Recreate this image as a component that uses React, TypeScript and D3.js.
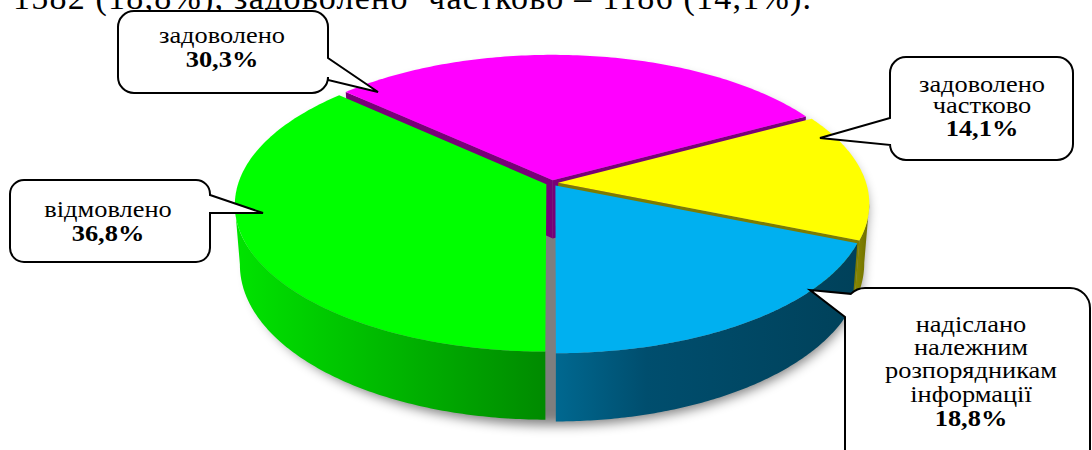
import React from "react";
import * as d3 from "d3";

// ---- data ----
const categories = ["задоволено", "задоволено частково", "надіслано належним розпорядникам інформації", "відмовлено"];
const shares = [30.3, 14.1, 18.8, 36.8];
const shareLabels = ["30,3%", "14,1%", "18,8%", "36,8%"];
const calloutLines = [["задоволено"], ["задоволено", "частково"], ["надіслано", "належним", "розпорядникам", "інформації"], ["відмовлено"]];
const headerLine = "1582 (18,8%), задоволено  частково – 1186 (14,1%).";

// ---- style ----
const topColors = ["#ff00ff", "#ffff00", "#00b0f0", "#00ff00"];
const sideStops: [string, string][][] = [
  [["0%", "#780078"], ["100%", "#780078"]],
  [["0%", "#8a8a00"], ["100%", "#6c6c00"]],
  [["0%", "#006890"], ["30%", "#004e6e"], ["100%", "#00415a"]],
  [["0%", "#00e400"], ["100%", "#008a00"]],
];
const radialColors = ["#780078", "#7c7c00", "#004e6e", "#00a000"];

const FIRST_ANGLE = (-47.5 * Math.PI) / 180;
const G = { cx: 552, cy: 183, R: 308, K: 143.6, p: 0.14, D: 58.5, q: 0.016, e: 0.02 };
const LABEL_SIZE = 24;
const LABEL_STRETCH = 1.1;

type Box = { x: number; y: number; w: number; h: number; r: number };
type Callout = {
  idx: number;
  box: Box;
  side: "right" | "left" | "leftCorner";
  b0: number;
  b1: number;
  tip: [number, number];
  tx: number;
  baselines: number[];
};
const callouts: Callout[] = [
  { idx: 0, box: { x: 118, y: 11, w: 210, h: 82, r: 16 }, side: "right", b0: 58, b1: 80, tip: [378, 92], tx: 222, baselines: [43, 67] },
  { idx: 3, box: { x: 10, y: 180, w: 200, h: 82, r: 14 }, side: "right", b0: 195, b1: 213, tip: [263, 213], tx: 108, baselines: [217, 241] },
  { idx: 1, box: { x: 890, y: 57, w: 183, h: 103, r: 16 }, side: "left", b0: 118, b1: 145, tip: [820, 138], tx: 982, baselines: [92, 113, 136] },
  { idx: 2, box: { x: 845, y: 288, w: 245, h: 200, r: 20 }, side: "leftCorner", b0: 0, b1: 317, tip: [810, 290], tx: 971, baselines: [332, 355, 378, 402, 426] },
];

function proj(X: number, Y: number, Z: number): [number, number] {
  const s = 1 / (1 + G.p * Y);
  const f = 1 - G.q * Z;
  return [G.cx + G.R * X * s * f, G.cy - G.K * Y * s + G.D * Z * s];
}

function arcPts(a0: number, a1: number, ox: number, oy: number, Z: number, n = 120): [number, number][] {
  const pts: [number, number][] = [];
  for (let i = 0; i <= n; i++) {
    const t = a0 + ((a1 - a0) * i) / n;
    pts.push(proj(ox + Math.sin(t), oy + Math.cos(t), Z));
  }
  return pts;
}

const line = d3.line<[number, number]>();
const poly = (pts: [number, number][]) => (line(pts) || "") + "Z";

function calloutPath(c: Callout): string {
  const { x, y, w, h, r } = c.box;
  const x1 = x + w, y1 = y + h;
  const [tx, ty] = c.tip;
  let d = "";
  if (c.side === "leftCorner") {
    const ang = Math.PI / 4;
    const px = x + r - r * Math.cos(ang), py = y + r - r * Math.sin(ang);
    d += `M${x + r},${y} H${x1 - r} A${r},${r} 0 0 1 ${x1},${y + r} V${y1 - r} A${r},${r} 0 0 1 ${x1 - r},${y1} H${x + r} A${r},${r} 0 0 1 ${x},${y1 - r} V${c.b1} L${tx},${ty} L${px},${py} A${r},${r} 0 0 1 ${x + r},${y} Z`;
    return d;
  }
  d += `M${x + r},${y} H${x1 - r} A${r},${r} 0 0 1 ${x1},${y + r}`;
  if (c.side === "right") d += ` V${c.b0} L${tx},${ty} L${x1},${c.b1}`;
  d += ` V${y1 - r} A${r},${r} 0 0 1 ${x1 - r},${y1} H${x + r} A${r},${r} 0 0 1 ${x},${y1 - r}`;
  if (c.side === "left") d += ` V${c.b1} L${tx},${ty} L${x},${c.b0}`;
  d += ` V${y + r} A${r},${r} 0 0 1 ${x + r},${y} Z`;
  return d;
}

export default function App() {
  const pie = d3
    .pie<number>()
    .sort(null)
    .value((d) => d)
    .startAngle(FIRST_ANGLE)
    .endAngle(FIRST_ANGLE + 2 * Math.PI);
  const arcs = pie(shares);

  const vis0 = Math.acos(-G.p);
  const vis1 = 2 * Math.PI - vis0;

  const slices = arcs.map((a, i) => {
    const mid = (a.startAngle + a.endAngle) / 2;
    const ox = G.e * Math.sin(mid), oy = G.e * Math.cos(mid);
    const center0 = proj(ox, oy, 0);
    const top = poly([center0, ...arcPts(a.startAngle, a.endAngle, ox, oy, 0)]);
    const walls: { d: string; fill: string }[] = [];
    const radial = (ang: number) => {
      const rt = proj(ox + Math.sin(ang), oy + Math.cos(ang), 0);
      const rb = proj(ox + Math.sin(ang), oy + Math.cos(ang), 1);
      return poly([center0, rt, rb, proj(ox, oy, 1)]);
    };
    if (Math.sin(a.startAngle) < -1e-3) walls.push({ d: radial(a.startAngle), fill: radialColors[i] });
    if (Math.sin(a.endAngle) > 1e-3) walls.push({ d: radial(a.endAngle), fill: radialColors[i] });
    let outer: string | null = null;
    const lo = Math.max(a.startAngle, vis0), hi = Math.min(a.endAngle, vis1);
    if (lo < hi) {
      outer = poly([...arcPts(lo, hi, ox, oy, 0), ...arcPts(hi, lo, ox, oy, 1)]);
    }
    return { i, depth: Math.cos(mid), top, walls, outer };
  });
  const order = [...slices].sort((a, b) => b.depth - a.depth);

  const shadowTop = poly(arcPts(0, 2 * Math.PI, 0, 0, 0, 240));
  const shadowBottom = poly(arcPts(0, 2 * Math.PI, 0, 0, 1, 240));
  const shadowWall = poly([...arcPts(vis0, vis1, 0, 0, 0), ...arcPts(vis1, vis0, 0, 0, 1)]);

  const font = "Liberation Serif, Times New Roman, serif";

  return (
    <div style={{ position: "absolute", left: 0, top: 0 }}>
      <svg width={1092} height={450} viewBox="0 0 1092 450" style={{ display: "block", background: "#fff" }}>
        <defs>
          <filter id="shadowBlur" x="-20%" y="-20%" width="140%" height="140%">
            <feGaussianBlur stdDeviation={6} />
          </filter>
          {sideStops.map((stops, i) => (
            <linearGradient key={i} id={`side${i}`} x1="0" x2="1" y1="0" y2="0">
              {stops.map(([o, c], k) => (
                <stop key={k} offset={o} stopColor={c} />
              ))}
            </linearGradient>
          ))}
        </defs>

        <text x={13} y={9} fontFamily={font} fontSize={34} fill="#000" textLength={798} lengthAdjust="spacing" style={{ whiteSpace: "pre" }}>
          {headerLine}
        </text>

        <g filter="url(#shadowBlur)" transform="translate(4,7)" opacity={0.5}>
          <path d={shadowTop} fill="#000" />
          <path d={shadowBottom} fill="#000" />
          <path d={shadowWall} fill="#000" />
        </g>

        {order.map((s) => (
          <g key={s.i}>
            {s.walls.map((w, k) => (
              <path key={k} d={w.d} fill={w.fill} />
            ))}
            {s.outer && <path d={s.outer} fill={`url(#side${s.i})`} />}
            <path d={s.top} fill={topColors[s.i]} />
          </g>
        ))}

        {callouts.map((c, k) => {
          const lines = [...calloutLines[c.idx], shareLabels[c.idx]];
          return (
            <g key={k}>
              <path d={calloutPath(c)} fill="#fff" stroke="#000" strokeWidth={2} strokeLinejoin="miter" />
              {lines.map((t, j) => (
                <text
                  key={j}
                  transform={`translate(${c.tx},${c.baselines[j]}) scale(${LABEL_STRETCH},1)`}
                  textAnchor="middle"
                  fontFamily={font}
                  fontSize={LABEL_SIZE}
                  fontWeight={j === lines.length - 1 ? "bold" : "normal"}
                  fill="#000"
                >
                  {t}
                </text>
              ))}
            </g>
          );
        })}
      </svg>
    </div>
  );
}
